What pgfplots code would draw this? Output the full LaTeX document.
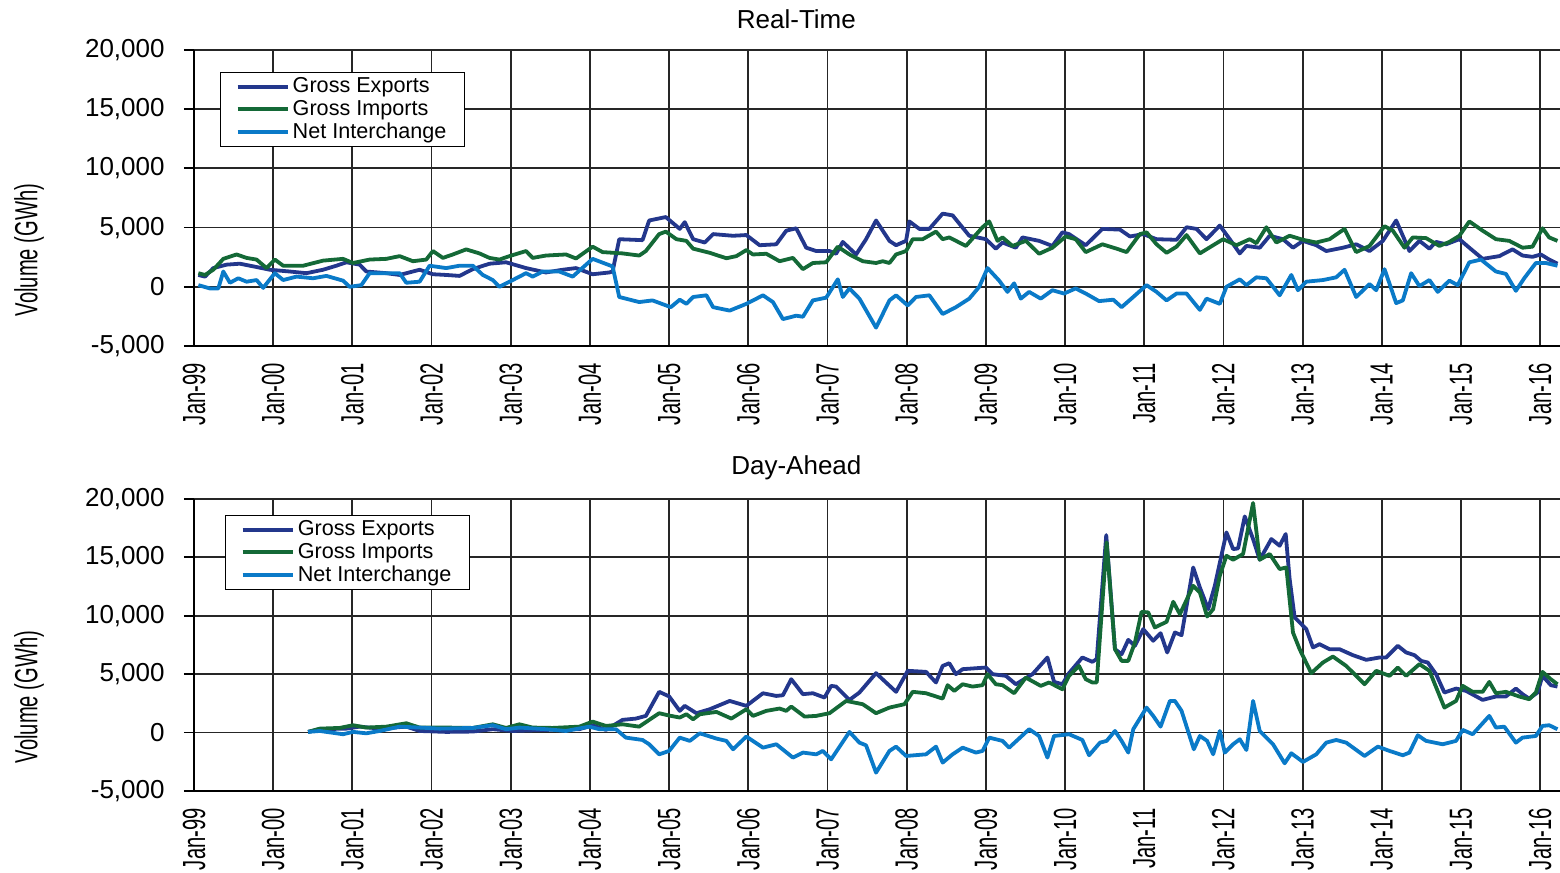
\documentclass[border=0pt]{standalone}
\usepackage{fontspec}
\setmainfont{Liberation Sans}
\usepackage{pgfplots}
\pgfplotsset{compat=1.18}

\definecolor{gexp}{RGB}{35,55,140}
\definecolor{gimp}{RGB}{20,105,55}
\definecolor{netc}{RGB}{10,122,200}

% condensed text, used for rotated labels
\newcommand\narrow[1]{\scalebox{0.63}[1]{\fontsize{16}{16}\selectfont #1}}

\pgfplotsset{
  ivbase/.style={
    scale only axis, width=683pt,
    xmin=0, xmax=17.25, ymin=-5000, ymax=20000,
    axis x line*=bottom, axis y line*=left,
    axis line style={black, line width=0.9pt},
    grid=major, grid style={black!85, line width=0.9pt},
    xtick={0,...,17},
    xticklabels={\narrow{Jan-99},\narrow{Jan-00},\narrow{Jan-01},\narrow{Jan-02},\narrow{Jan-03},\narrow{Jan-04},
      \narrow{Jan-05},\narrow{Jan-06},\narrow{Jan-07},\narrow{Jan-08},\narrow{Jan-09},\narrow{Jan-10},
      \narrow{Jan-11},\narrow{Jan-12},\narrow{Jan-13},\narrow{Jan-14},\narrow{Jan-15},\narrow{Jan-16}},
    xticklabel style={anchor=east, inner sep=0pt, yshift=-3.5pt, rotate=90},
    xtick style={draw=none},
    scaled y ticks=false,
    ytick={-5000,0,5000,10000,15000,20000},
    yticklabels={{-5,000},0,{5,000},{10,000},{15,000},{20,000}},
    yticklabel style={font=\fontsize{13}{13}\selectfont, anchor=east, inner sep=0pt, xshift=-9.5pt},
    tick align=outside, major tick length=5pt,
    ytick style={black, line width=0.9pt},
    ylabel={\narrow{Volume (GWh)}},
    title style={font=\fontsize{13}{13}\selectfont, anchor=center},
    legend cell align=left,
    legend image code/.code={\draw[#1, line width=2pt] (1.5pt,0pt) -- (26.5pt,0pt);},
    every axis plot/.append style={line width=1.9pt, line join=round},
  }
}

\begin{document}
\begin{tikzpicture}
\path[use as bounding box] (-97pt,-41pt) rectangle (683pt,395.5pt);

% ---------------- Real-Time ----------------
\begin{axis}[ivbase, at={(0pt,222.5pt)}, height=148pt,
  title={Real-Time}, title style={at={(0.441,1)}, yshift=9.5pt},
  ylabel style={at={(axis description cs:-0.1208,0.324)}, anchor=center},
  legend style={at={(0.019,0.926)}, anchor=north west, draw=black, line width=0.6pt,
    font=\fontsize{10.8}{11}\selectfont, inner xsep=7.5pt, inner ysep=1pt, row sep=-1pt,
    nodes={inner sep=1.6pt}}]
\addplot[color=gexp] coordinates {
(0.055,1000)(0.139,860)(0.244,1580)(0.412,1870)(0.580,1950)(0.790,1670)(0.958,1440)
(1.210,1290)(1.420,1150)(1.630,1440)(1.798,1780)(1.924,2070)(2.092,1870)(2.176,1290)
(2.429,1150)(2.597,1000)(2.849,1440)(3.017,1060)(3.185,1000)(3.353,920)(3.521,1490)
(3.731,1950)(3.941,2070)(4.193,1580)(4.445,1210)(4.655,1440)(4.824,1580)(5.034,1060)
(5.244,1210)(5.286,1290)(5.370,4020)(5.664,3940)(5.748,5600)(5.958,5890)
(6.134,4890)(6.197,5460)(6.303,4020)(6.450,3740)(6.555,4450)(6.807,4310)(6.975,4370)
(7.143,3510)(7.353,3590)(7.479,4740)(7.605,4940)(7.731,3300)(7.857,3020)(8.025,3020)
(8.109,2790)(8.193,3790)(8.361,2730)(8.487,4020)(8.613,5600)(8.782,3880)(8.866,3510)
(8.992,3880)(9.034,5520)(9.160,4890)(9.286,4890)(9.454,6180)(9.580,6030)(9.790,4310)
(10.000,4020)(10.126,3220)(10.210,3740)(10.378,3300)(10.462,4170)(10.672,3880)
(10.840,3450)(10.966,4600)(11.050,4450)(11.261,3510)(11.471,4890)(11.693,4830)
(11.819,4250)(11.987,4450)(12.155,4020)(12.408,3970)(12.534,5030)(12.660,4890)
(12.786,4020)(12.954,5170)(13.080,4020)(13.206,2820)(13.290,3450)(13.458,3300)
(13.584,4310)(13.752,4020)(13.878,3300)(14.004,3880)(14.172,3510)(14.298,3020)
(14.508,3300)(14.676,3590)(14.845,3020)(15.013,3880)(15.181,5600)(15.349,3020)
(15.475,3880)(15.601,3220)(15.685,3790)(15.811,3590)(15.979,4020)(16.105,3300)
(16.273,2360)(16.483,2590)(16.651,3160)(16.777,2640)(16.903,2530)(17.008,2730)
(17.113,2300)(17.218,1950)};
\addlegendentry{Gross Exports}
\addplot[color=gimp] coordinates {
(0.055,1150)(0.139,1000)(0.244,1440)(0.370,2360)(0.538,2730)(0.664,2440)(0.790,2300)
(0.916,1580)(1.021,2300)(1.126,1780)(1.378,1780)(1.630,2210)(1.882,2360)(2.008,2010)
(2.218,2300)(2.429,2360)(2.597,2590)(2.765,2160)(2.933,2300)(3.017,3020)(3.143,2440)
(3.269,2730)(3.437,3160)(3.605,2820)(3.731,2440)(3.857,2300)(3.983,2590)(4.193,3020)
(4.277,2440)(4.445,2640)(4.697,2730)(4.824,2390)(5.034,3390)(5.160,2930)(5.412,2820)
(5.622,2640)(5.706,3020)(5.874,4450)(5.958,4660)
(6.092,4020)(6.218,3880)(6.303,3220)(6.513,2870)(6.723,2410)(6.849,2590)(6.975,3100)
(7.059,2730)(7.227,2790)(7.395,2160)(7.563,2440)(7.689,1490)(7.815,2010)(7.983,2070)
(8.130,3390)(8.277,2730)(8.445,2160)(8.613,2010)(8.697,2160)(8.782,2010)(8.866,2730)
(8.992,3020)(9.076,4020)(9.202,4020)(9.370,4660)(9.454,4020)(9.538,4170)(9.748,3450)
(9.958,5030)(10.042,5520)(10.147,3880)(10.210,4170)(10.336,3450)(10.504,3880)
(10.672,2790)(10.840,3300)(11.008,4250)(11.134,4020)(11.261,2930)(11.471,3590)
(11.651,3220)(11.777,2930)(11.945,4450)(12.029,4600)(12.155,3590)(12.282,2870)
(12.408,3390)(12.534,4370)(12.702,2820)(12.870,3510)(12.996,4020)(13.164,3510)
(13.332,4020)(13.416,3680)(13.542,5030)(13.668,3740)(13.836,4310)(14.004,3970)
(14.172,3740)(14.340,4020)(14.529,4890)(14.676,2930)(14.845,3450)(15.034,5120)
(15.139,4740)(15.286,3300)(15.391,4170)(15.559,4110)(15.727,3450)(15.853,3790)
(15.979,4310)(16.105,5520)(16.273,4740)(16.441,4020)(16.609,3880)(16.777,3300)
(16.903,3390)(17.029,4940)(17.113,4170)(17.218,3880)};
\addlegendentry{Gross Imports}
\addplot[color=netc] coordinates {
(0.055,140)(0.202,-140)(0.307,-140)(0.370,1290)(0.454,340)(0.559,720)(0.664,430)
(0.790,570)(0.874,-90)(1.021,1150)(1.126,570)(1.294,860)(1.504,720)(1.672,920)
(1.882,520)(1.966,0)(2.113,140)(2.218,1150)(2.429,1150)(2.597,1150)(2.681,340)
(2.849,430)(2.975,1780)(3.185,1580)(3.353,1780)(3.521,1780)(3.647,1000)(3.773,570)
(3.857,0)(4.025,570)(4.193,1150)(4.277,860)(4.403,1290)(4.613,1290)(4.782,860)
(5.034,2360)(5.286,1720)(5.370,-860)(5.622,-1290)(5.790,-1150)(6.021,-1720)
(6.134,-1090)(6.218,-1440)(6.303,-860)(6.471,-720)(6.555,-1720)(6.765,-2010)
(6.975,-1440)(7.185,-720)(7.311,-1290)(7.437,-2730)(7.605,-2440)(7.689,-2530)
(7.815,-1150)(7.983,-920)(8.130,630)(8.193,-860)(8.277,-140)(8.403,-1000)(8.613,-3450)
(8.782,-1150)(8.866,-720)(9.013,-1580)(9.118,-860)(9.286,-720)(9.454,-2300)
(9.622,-1720)(9.790,-1000)(9.916,0)(10.021,1580)(10.168,520)(10.273,-430)(10.357,290)
(10.441,-1000)(10.546,-430)(10.693,-1000)(10.840,-290)(10.987,-570)(11.134,-140)
(11.261,-570)(11.429,-1210)(11.609,-1090)(11.714,-1720)(11.861,-860)(12.029,140)
(12.155,-430)(12.282,-1150)(12.408,-570)(12.534,-570)(12.702,-1950)(12.786,-1000)
(12.954,-1440)(13.038,0)(13.206,630)(13.290,140)(13.416,800)(13.542,720)(13.710,-720)
(13.857,1000)(13.941,-290)(14.046,430)(14.256,570)(14.424,800)(14.529,1440)
(14.676,-860)(14.845,230)(14.929,-290)(15.034,1490)(15.181,-1380)(15.265,-1150)
(15.370,1150)(15.475,60)(15.601,570)(15.706,-430)(15.853,520)(15.958,140)(16.105,2070)
(16.252,2300)(16.441,1290)(16.567,1090)(16.693,-340)(16.798,720)(16.945,2010)
(17.071,2010)(17.218,1780)};
\addlegendentry{Net Interchange}
\end{axis}

% ---------------- Day-Ahead ----------------
\begin{axis}[ivbase, at={(0pt,0pt)}, height=146pt,
  title={Day-Ahead}, title style={at={(0.441,1)}, yshift=9.5pt},
  ylabel style={at={(axis description cs:-0.1208,0.322)}, anchor=center},
  legend style={at={(0.0227,0.945)}, anchor=north west, draw=black, line width=0.6pt,
    font=\fontsize{10.8}{11}\selectfont, inner xsep=7.5pt, inner ysep=1pt, row sep=-1pt,
    nodes={inner sep=1.6pt}}]
\addplot[color=gexp] coordinates {
(1.441,60)(1.588,290)(1.924,340)(2.092,510)(2.345,340)(2.681,510)(2.849,140)(3.185,60)
(3.521,90)(3.773,290)(4.025,140)(4.445,230)(4.866,290)(5.034,630)(5.202,230)(5.412,1090)
(5.580,1200)(5.706,1430)(5.874,3490)(6.000,3100)(6.134,1860)(6.197,2290)(6.345,1660)
(6.513,2000)(6.765,2710)(6.975,2290)(7.185,3370)(7.353,3140)(7.437,3200)(7.542,4570)
(7.689,3290)(7.815,3370)(7.962,3000)(8.046,4000)(8.109,3940)(8.277,2800)(8.403,3430)
(8.613,5090)(8.739,4290)(8.866,3490)(9.013,5290)(9.244,5200)(9.370,4290)(9.454,5710)
(9.538,5940)(9.622,5000)(9.706,5430)(10.000,5570)(10.084,5000)(10.252,4860)(10.378,4140)
(10.588,5000)(10.777,6430)(10.861,4340)(10.966,4140)(11.050,5090)(11.218,6430)
(11.345,6060)(11.400,6300)(11.520,16910)(11.630,7140)(11.714,6710)(11.798,7940)
(11.882,7430)(11.987,8860)(12.113,7860)(12.206,8510)(12.290,6860)(12.387,8570)
(12.471,8340)(12.618,14140)(12.702,12430)(12.807,10570)(12.891,12570)(13.038,17140)
(13.122,15710)(13.185,15770)(13.269,18510)(13.374,16570)(13.458,14800)(13.605,16570)
(13.710,16000)(13.786,17000)(13.836,13140)(13.899,9860)(14.046,8860)(14.130,7290)
(14.214,7570)(14.340,7140)(14.466,7140)(14.634,6630)(14.803,6230)(14.971,6430)
(15.055,6430)(15.202,7430)(15.307,6860)(15.412,6630)(15.496,6140)(15.580,6000)
(15.685,5000)(15.790,3430)(15.937,3770)(16.063,3570)(16.273,2800)(16.441,3090)
(16.567,3090)(16.693,3770)(16.777,3290)(16.861,2910)(16.966,3430)(17.029,4860)
(17.134,4060)(17.218,3940)};
\addlegendentry{Gross Exports}
\addplot[color=gimp] coordinates {
(1.441,60)(1.588,340)(1.840,400)(2.008,630)(2.176,430)(2.429,510)(2.681,800)(2.849,430)
(3.185,430)(3.521,400)(3.773,710)(3.941,400)(4.109,710)(4.277,430)(4.529,400)(4.866,510)
(5.034,940)(5.202,570)(5.412,710)(5.622,510)(5.874,1660)(6.000,1460)(6.134,1290)
(6.218,1570)(6.303,1140)(6.387,1570)(6.597,1770)(6.786,1200)(6.975,2000)(7.059,1430)
(7.227,1860)(7.395,2060)(7.479,1860)(7.542,2230)(7.710,1370)(7.857,1430)(8.025,1660)
(8.235,2710)(8.445,2430)(8.613,1660)(8.782,2140)(8.971,2430)(9.076,3490)(9.244,3370)
(9.454,2910)(9.517,4060)(9.601,3570)(9.706,4140)(9.832,3940)(9.958,4060)(10.021,5000)
(10.126,4140)(10.210,4060)(10.357,3370)(10.504,4710)(10.693,4000)(10.798,4290)
(10.966,3710)(11.050,4860)(11.176,5710)(11.261,4570)(11.345,4290)(11.400,4300)
(11.525,16290)(11.630,7140)(11.714,6140)(11.798,6140)(11.882,7710)(11.966,10340)
(12.050,10290)(12.134,9000)(12.282,9490)(12.366,11200)(12.450,10140)(12.618,12570)
(12.702,12000)(12.794,9940)(12.870,10570)(12.954,13430)(13.038,15140)(13.122,14800)
(13.248,15290)(13.374,19660)(13.458,14800)(13.584,15290)(13.710,14000)(13.794,14140)
(13.878,8570)(13.962,7140)(14.109,5090)(14.256,6000)(14.382,6510)(14.550,5710)
(14.676,4860)(14.782,4140)(14.929,5290)(15.097,4860)(15.202,5570)(15.307,4860)
(15.475,5860)(15.601,5290)(15.790,2140)(15.937,2710)(16.021,4000)(16.147,3490)
(16.273,3490)(16.357,4340)(16.441,3370)(16.567,3490)(16.735,3090)(16.861,2860)
(16.945,3430)(17.029,5200)(17.134,4570)(17.218,4140)};
\addlegendentry{Gross Imports}
\addplot[color=netc] coordinates {
(1.441,60)(1.588,140)(1.882,-140)(2.008,60)(2.176,-60)(2.345,140)(2.597,510)(2.849,430)
(3.101,340)(3.521,400)(3.773,630)(3.941,290)(4.109,430)(4.445,290)(4.697,140)(4.992,510)
(5.118,290)(5.328,290)(5.454,-430)(5.664,-630)(5.748,-1000)(5.874,-1860)(6.000,-1570)
(6.134,-430)(6.261,-710)(6.387,-60)(6.597,-510)(6.723,-710)(6.807,-1430)(6.975,-340)
(7.185,-1290)(7.353,-1000)(7.563,-2140)(7.689,-1710)(7.857,-1860)(7.941,-1570)
(8.046,-2290)(8.277,60)(8.403,-860)(8.487,-1090)(8.613,-3430)(8.782,-1570)(8.866,-1200)
(8.992,-2000)(9.244,-1860)(9.370,-1200)(9.454,-2570)(9.580,-1860)(9.706,-1290)
(9.874,-1710)(9.958,-1570)(10.042,-430)(10.210,-710)(10.294,-1290)(10.546,290)
(10.672,-290)(10.777,-2140)(10.861,-290)(11.050,-140)(11.218,-630)(11.303,-1940)
(11.441,-860)(11.525,-710)(11.630,140)(11.714,-710)(11.798,-1710)(11.861,290)
(12.029,2140)(12.113,1430)(12.206,510)(12.324,2710)(12.387,2710)(12.471,1860)
(12.626,-1430)(12.702,-290)(12.794,-710)(12.870,-1860)(12.954,140)(13.017,-1710)
(13.122,-1000)(13.206,-570)(13.290,-1490)(13.374,2710)(13.458,140)(13.626,-1000)
(13.773,-2630)(13.857,-1770)(14.004,-2510)(14.172,-1860)(14.298,-860)(14.424,-630)
(14.550,-860)(14.782,-2000)(14.950,-1200)(15.097,-1570)(15.265,-1940)(15.349,-1710)
(15.454,-230)(15.559,-710)(15.769,-1000)(15.937,-710)(16.021,230)(16.147,-140)
(16.357,1430)(16.441,430)(16.546,510)(16.693,-860)(16.777,-430)(16.945,-290)
(17.029,570)(17.113,630)(17.218,290)};
\addlegendentry{Net Interchange}
\end{axis}
\end{tikzpicture}
\end{document}
